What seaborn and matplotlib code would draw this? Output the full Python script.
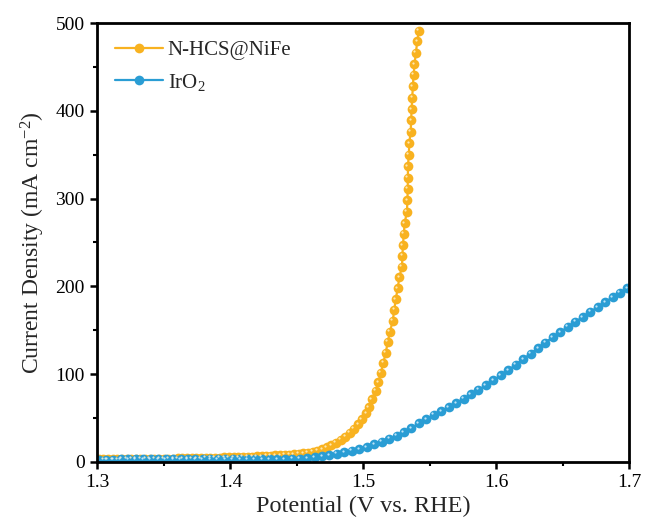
import matplotlib
matplotlib.use("Agg")
import matplotlib.pyplot as plt
import matplotlib.transforms as mtransforms
from matplotlib.ticker import MultipleLocator
import seaborn as sns
import pandas as pd

# LSV polarisation data (potential in V vs. RHE, current density in mA cm^-2)
nifeV = [1.3012, 1.3047, 1.3082, 1.3117, 1.3152, 1.3187, 1.3222, 1.3257, 1.3292, 1.3327,
         1.3362, 1.3397, 1.3432, 1.3467, 1.3502, 1.3537, 1.3572, 1.3607, 1.3642, 1.3677,
         1.3712, 1.3747, 1.3782, 1.3817, 1.3852, 1.3887, 1.3922, 1.3957, 1.3992, 1.4027,
         1.4062, 1.4097, 1.4132, 1.4167, 1.4202, 1.4237, 1.4272, 1.4307, 1.4342, 1.4377,
         1.4412, 1.4447, 1.4481, 1.4517, 1.4551, 1.4586, 1.4622, 1.4656, 1.4692, 1.4727,
         1.4762, 1.4797, 1.4832, 1.4867, 1.4902, 1.4932, 1.4965, 1.4990, 1.5023, 1.5045,
         1.5065, 1.5095, 1.5115, 1.5135, 1.5153, 1.5171, 1.5186, 1.5203, 1.5223, 1.5235,
         1.5246, 1.5261, 1.5273, 1.5293, 1.5296, 1.5300, 1.5307, 1.5313, 1.5330, 1.5334,
         1.5336, 1.5337, 1.5338, 1.5344, 1.5348, 1.5358, 1.5362, 1.5365, 1.5370, 1.5375,
         1.5380, 1.5387, 1.5398, 1.5407, 1.5421]
nifeJ = [3.2, 3.2, 3.3, 3.3, 3.3, 3.4, 3.4, 3.4, 3.5, 3.5,
         3.6, 3.6, 3.7, 3.7, 3.8, 3.8, 3.9, 4.0, 4.0, 4.1,
         4.2, 4.3, 4.4, 4.5, 4.6, 4.8, 4.9, 5.1, 5.2, 5.4,
         5.6, 5.8, 6.0, 6.2, 6.4, 6.6, 6.9, 7.1, 7.4, 7.7,
         8.0, 8.3, 8.7, 9.2, 9.8, 10.5, 11.4, 12.5, 14.5, 16.7,
         19.0, 22.0, 25.1, 28.8, 33.0, 37.6, 42.9, 48.6, 55.5, 62.3,
         71.4, 80.9, 90.8, 101.7, 113.1, 124.5, 136.7, 148.4, 160.6, 173.1,
         185.3, 197.8, 210.4, 222.4, 234.6, 247.0, 260.0, 272.0, 285.0, 298.0,
         311.0, 324.0, 337.0, 350.0, 363.0, 376.0, 389.0, 402.0, 415.0, 428.0,
         441.0, 453.0, 466.0, 479.0, 491.0]

iro2V = [1.3012, 1.3068, 1.3124, 1.3180, 1.3236, 1.3292, 1.3348, 1.3404, 1.3460, 1.3516,
         1.3572, 1.3628, 1.3684, 1.3740, 1.3796, 1.3852, 1.3908, 1.3964, 1.4020, 1.4076,
         1.4132, 1.4188, 1.4244, 1.4300, 1.4356, 1.4412, 1.4468, 1.4524, 1.4580, 1.4636,
         1.4692, 1.4748, 1.4804, 1.4860, 1.4916, 1.4972, 1.5028, 1.5084, 1.5140, 1.5196,
         1.5252, 1.5308, 1.5364, 1.5420, 1.5476, 1.5532, 1.5588, 1.5644, 1.5700, 1.5756,
         1.5812, 1.5868, 1.5924, 1.5980, 1.6036, 1.6092, 1.6148, 1.6204, 1.6260, 1.6316,
         1.6372, 1.6428, 1.6484, 1.6540, 1.6596, 1.6652, 1.6708, 1.6764, 1.6820, 1.6876,
         1.6932, 1.6988]
iro2J = [2.8, 2.8, 2.8, 2.9, 2.9, 2.9, 2.9, 3.0, 3.0, 3.0,
         3.0, 3.0, 3.0, 3.0, 3.1, 3.1, 3.1, 3.1, 3.1, 3.2,
         3.2, 3.2, 3.2, 3.3, 3.3, 3.3, 3.4, 3.7, 4.4, 5.3,
         6.3, 7.6, 9.2, 10.8, 12.7, 14.6, 17.0, 20.2, 23.3, 26.4,
         29.7, 33.6, 38.6, 44.0, 48.8, 53.6, 58.0, 62.5, 67.0, 72.0,
         77.1, 82.1, 87.4, 93.0, 98.8, 104.5, 110.6, 117.0, 123.4, 129.7,
         136.0, 142.3, 148.0, 153.8, 159.6, 165.0, 170.8, 176.4, 182.0, 187.6,
         192.8, 197.8]

labels = ["N-HCS@NiFe", r"IrO$_2$"]
colors = ["#F8B220", "#2A9DD4"]
glints = ["#FFF1CC", "#D8F0FF"]

xticks = [1.3, 1.4, 1.5, 1.6, 1.7]
yticks = [0, 100, 200, 300, 400, 500]

sns.set_theme(style="ticks")
plt.rcParams["font.family"] = ["Liberation Serif", "DejaVu Serif"]
plt.rcParams["mathtext.fontset"] = "custom"
plt.rcParams["mathtext.rm"] = "Liberation Serif"
plt.rcParams["mathtext.it"] = "Liberation Serif:italic"

df = pd.concat([
    pd.DataFrame({"V": nifeV, "J": nifeJ, "s": labels[0]}),
    pd.DataFrame({"V": iro2V, "J": iro2J, "s": labels[1]}),
], ignore_index=True)

fig = plt.figure(figsize=(6.48, 5.29), dpi=100)
ax = fig.add_axes([0.1497, 0.1267, 0.8210, 0.8298])

MS = 7.0
sns.lineplot(data=df, x="V", y="J", hue="s", palette=colors, sort=False,
             estimator=None, marker="o", markersize=MS, markeredgewidth=0,
             linewidth=1.6, ax=ax, legend=False)

# glossy glint on each bead
hl = mtransforms.offset_copy(ax.transData, fig=fig, x=-1.1, y=1.1, units="points")
for (xs, ys), g in zip([(nifeV, nifeJ), (iro2V, iro2J)], glints):
    ax.plot(xs, ys, linestyle="none", marker="o", markersize=1.6,
            markerfacecolor=g, markeredgewidth=0, alpha=0.85, transform=hl)

handles = [plt.Line2D([], [], color=c, marker="o", markersize=MS, markeredgewidth=0,
                      linewidth=1.6) for c in colors]
ax.legend(handles, labels, loc="upper left", frameon=False, fontsize=15,
          handlelength=2.3, labelspacing=0.55, handletextpad=0.25,
          bbox_to_anchor=(0.0, 1.0), borderaxespad=0.45)

ax.set_xlim(1.3, 1.7)
ax.set_ylim(0, 500)
ax.set_xticks(xticks)
ax.set_yticks(yticks)
ax.set_xticklabels([f"{t:.1f}" for t in xticks])
ax.set_yticklabels([str(t) for t in yticks])
ax.xaxis.set_minor_locator(MultipleLocator(0.05))
ax.yaxis.set_minor_locator(MultipleLocator(50))
ax.tick_params(which="major", direction="out", length=5, width=1.8, labelsize=14,
               colors="black", pad=4)
ax.tick_params(which="minor", direction="out", length=3, width=1.5, colors="black")
for sp in ax.spines.values():
    sp.set_visible(True)
    sp.set_linewidth(2.0)
    sp.set_color("black")

ax.set_xlabel("Potential (V vs. RHE)", fontsize=17.5, labelpad=3)
ax.set_ylabel(r"Current Density (mA cm$^{-2}$)", fontsize=17, labelpad=6)

fig.savefig("out.png", dpi=100, facecolor="white")
